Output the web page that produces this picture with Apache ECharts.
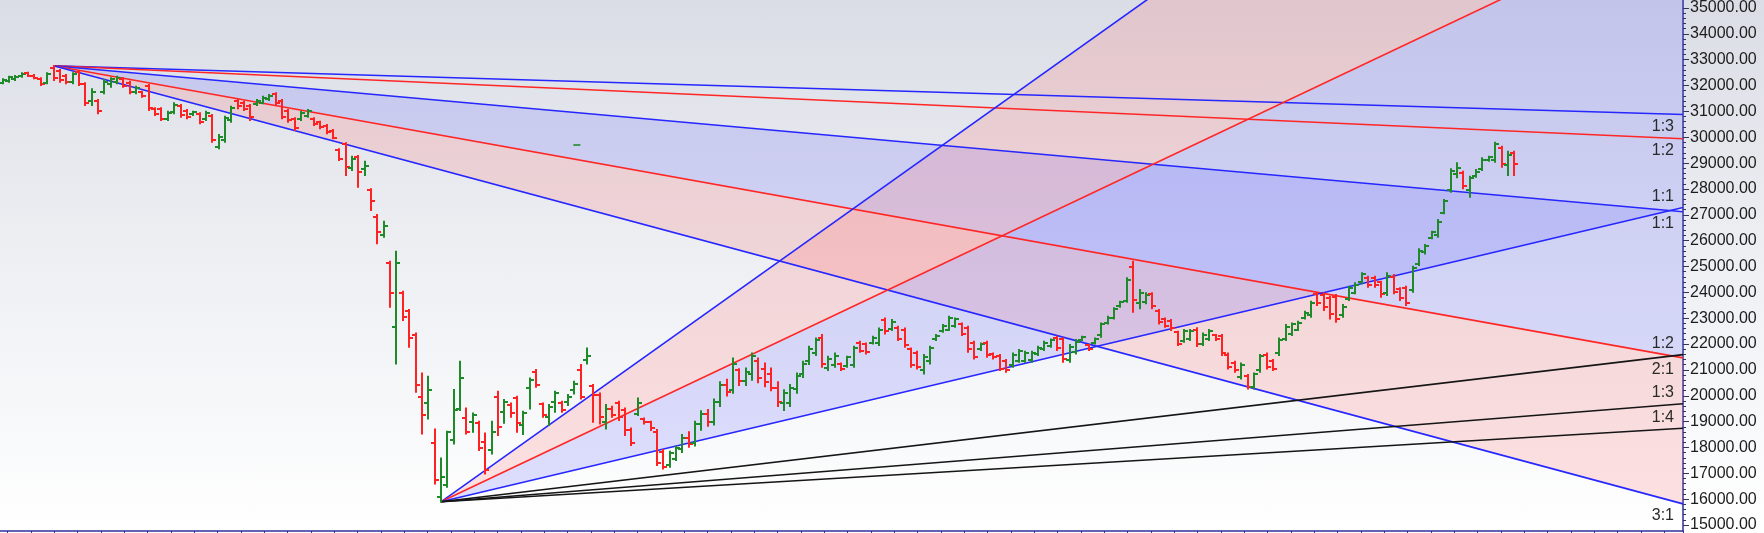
<!DOCTYPE html>
<html>
<head>
<meta charset="utf-8">
<script src="https://cdn.jsdelivr.net/npm/echarts@6/dist/echarts.min.js"></script>
<style>
html,body{margin:0;padding:0;background:#fff;}
#chart{width:1764px;height:533px;background:linear-gradient(to bottom,#dadde5 0%,#eceef2 45%,#ffffff 100%);}
</style>
</head>
<body>
<div id="chart"></div>
<script>
// ---------- OHLC data (one bar per trading day) ----------
const open = [
31990,32050,32110,32230,32350,32260,32130,31990,32550,32440,
32250,32000,32380,31930,31300,31300,31650,31950,32020,32120,
31980,31620,31620,31850,30990,30980,30620,30870,31100,30920,
30780,30800,30600,30720,29540,29800,30560,31300,31230,31100,
31160,31230,31350,31540,31280,30900,30590,30600,30730,30600,
30480,30340,30160,
29430,29640,28750,29170,28700,27900,26900,26200,
25120,22700,24000,23300,22400,20050,19830,18300,16250,16700,
18400,19600,19250,19100,19060,18340,18025,20053,19483,19736,
19990,18976,20370,21003,19775,19293,19863,19825,19863,20307,
21066,21450,20450,20120,19100,19600,19800,19550,18800,19400,
19200,19080,18700,17950,17450,
17700,18050,18500,18300,19000,19400,19100,19850,20500,20300,
21050,20650,20900,21400,21100,20900,20400,19800,19800,20350,
20900,21400,21700,22300,21150,
21250,21300,21220,21250,22100,22050,22100,22100,22950,22620,
22680,22600,21850,21700,21050,21400,22250,22550,22600,22750,
22800,22650,22080,21850,22100,21680,21600,21400,
21250,21420,21420,21450,21680,21850,21990,22300,22230,21450,
21750,22220,22000,22100,22380,22860,23060,23500,23700,24990,
23600,23650,23950,23300,23000,22940,22500,22180,22250,22600,
22050,22250,22380,22350,21650,21350,20800,20850,20420,21050,
21650,21400,21700,22250,22450,22600,23050,23150,23950,23900,
23800,23850,23150,23780,24000,24400,24580,24580,24400,24000,
24600,24150,24200,24100,25100,25550,26100,26200,27050,27900,
28500,28550,27900,28450,28700,29050,29050,29500,28850,29300
];
const high = [
32115,32216,32241,32343,32368,32279,32153,32343,32621,32469,
32279,32343,32406,31962,31734,31329,32089,32153,32216,32153,
32026,31836,31646,31899,31012,31012,30886,31202,31139,30949,
30886,30822,30886,30759,30000,30696,31076,31329,31266,31139,
31329,31456,31519,31582,31329,30949,30632,30886,30949,30632,
30505,30379,30189,
29454,29682,29175,29200,28985,27934,26958,26705,
25184,25565,24044,23347,22460,20940,20813,18811,17709,18720,
20307,21383,19610,19420,19103,18659,19103,20243,19926,19800,
20053,19483,20750,21066,19800,19736,20243,19863,20117,20623,
21257,21890,20496,20180,19736,19673,19863,19610,18849,19990,
19230,19103,18786,18026,17962,
18153,18600,18700,19100,19500,19550,19950,20600,20700,21510,
21100,21130,21700,21510,21320,21130,20600,20300,20500,20940,
21383,21954,22270,22397,21573,
21700,21320,21573,21953,22143,22080,22333,22650,23030,22967,
22714,22650,21890,21763,21637,21953,22397,22777,23094,23030,
22840,22714,22143,22080,22143,21700,21637,21447,
21700,21827,21763,21763,21954,22144,22232,22334,22270,22017,
22207,22334,22017,22270,22840,23094,23411,23664,24551,25184,
24108,23981,23981,23347,23030,22967,22524,22587,22587,22651,
22460,22587,22397,22397,21700,21383,21320,20877,20940,21637,
21700,21447,22270,22777,22840,22904,23284,23664,23981,23981,
23854,23918,23537,24234,24361,24741,24614,24614,24424,24741,
24678,24171,24234,24995,25653,25818,26324,26768,27528,28694,
28922,28605,28415,28669,29112,29175,29707,29555,29365,29365
];
const low = [
31962,32026,32089,32216,32241,32153,31899,31962,32089,32026,
31962,31962,31899,31139,31139,30822,31582,31836,31962,31836,
31582,31582,31456,30949,30759,30569,30569,30822,30696,30632,
30759,30442,30569,29745,29492,29745,30505,31012,30949,30569,
31139,31202,31329,31139,30632,30505,30189,30569,30696,30379,
30252,30062,29872,
29049,28479,28669,28035,28479,27148,25881,26135,
23474,21320,22967,21954,20243,18659,19230,16759,16062,16632,
18279,19546,18659,18723,18026,17139,17899,18596,19064,19293,
18723,18634,19610,20433,19293,18976,19483,19483,19736,20180,
19990,21320,19103,19040,18850,19293,19166,18596,18216,19356,
19040,18786,17455,17329,17392,
17645,17950,18150,18200,18800,18950,19000,19700,20100,20200,
20500,20500,20700,20600,20450,20300,19700,19550,19700,20200,
20800,21300,21637,21193,21066,
21193,21066,21193,21193,21763,21700,22080,22017,22460,22587,
22207,21953,21193,21130,20940,21320,22207,22523,22587,22714,
22397,21763,21510,21827,21573,21510,21066,21003,
21193,21383,21383,21383,21637,21827,21954,21827,21383,21383,
21700,22207,21827,22080,22334,22840,23030,23474,23664,23284,
23411,23601,23411,22840,22714,22587,22017,22144,22207,21979,
22017,22207,22207,21637,21130,21003,20750,20370,20370,21003,
21130,21067,21637,22207,22397,22587,23030,23094,23537,23347,
23030,22904,23094,23727,23981,24361,24234,24234,23854,23918,
23981,23728,23537,24044,25058,25500,26071,26134,27021,27845,
28390,27972,27655,28415,28669,29023,28985,28795,28478,28478
];
const close = [
32090,32190,32220,32320,32260,32170,31920,32320,32150,32080,
32000,32320,31930,31200,31650,30900,32030,32110,32160,31880,
31650,31780,31500,31020,30800,30620,30830,31150,30750,30680,
30860,30500,30840,29810,29930,30630,31010,31100,31000,30680,
31300,31420,31490,31200,30700,30560,30250,30840,30900,30420,
30290,30100,29900,
29100,28800,29100,28600,28820,27500,26300,26550,
23980,25150,23100,22300,20500,19360,20300,16900,17010,18700,
19550,20750,18720,19350,18090,17265,18723,18913,19863,19420,
19040,19420,20686,20496,19356,19673,20180,19546,20053,20540,
20053,21600,20100,19300,19600,19350,19300,18800,18300,19800,
19080,18850,17550,17400,17900,
18100,18500,18250,19000,19400,19100,19850,20500,20250,21300,
20650,21000,21600,20750,20600,20400,19850,20200,20400,20850,
21300,21850,22200,21300,21500,
21600,21100,21550,21900,21800,21750,22300,22600,22550,22900,
22250,22000,21250,21200,21550,21900,22350,22750,23050,23000,
22450,21850,21550,22050,21620,21550,21100,21050,
21650,21780,21720,21700,21900,22100,22200,21900,21500,21950,
22150,22310,21850,22250,22800,23050,23380,23640,24480,23726,
24000,23900,23500,22900,22750,22650,22050,22550,22550,22050,
22400,22550,22230,21700,21200,21050,21250,20420,20900,21600,
21200,21100,22200,22700,22800,22870,23250,23600,23600,23450,
23200,23000,23450,24180,24300,24700,24300,24280,23950,24650,
24050,23800,23600,24950,25600,25780,26300,26700,27500,28650,
28750,28050,28350,28600,29050,29150,29650,28900,29250,28900
];

// stray price marker seen on the chart (bar index, price)
const markerPoints = [[90.4, 29620]];

// ---------- axis ranges ----------
const priceView = [14950, 35130];        // visible price range of the plot
const priceTicks = [15000, 35000, 1000]; // labelled ticks
const indexView = [-0.425, 264.57];      // visible bar-index range (right part is empty future)
const timeTicks = [0, 71.8, 1];          // small ticks along the bottom edge

// ---------- Gann fans ----------
const topFan = { index: 8, price: 32630, unit: -21.63 };
const topRatios = [1/3, 1/2, 1, 2, 3];
const topLabels = ['1:3', '1:2', '1:1', '2:1', '3:1'];
const bottomFan = { index: 69, price: 16060, unit: 57.2 };
const bottomRatios = [3, 2, 1, 1/2, 1/3, 1/4];
const bottomLabels = ['', '', '1:1', '1:2', '1:3', '1:4'];

// styles (kept apart from data)
const topLineColors = ['blue', 'red', 'blue', 'red', 'blue'];
const bottomLineColors = ['blue', 'red', 'blue', 'black', 'black', 'black'];
const topBands = [[2, 3, 'lav'], [3, 4, 'pink']];
const bottomBands = [[0, 1, 'pink'], [1, 2, 'lav']];
const COLORS = { blue: '#2626ff', red: '#ff2626', black: '#151515' };
const FILLS = { lav: 'rgba(100,100,255,0.20)', pink: 'rgba(255,100,100,0.19)' };
const UP = '#1f8a2a', DOWN = '#ff2222';
const AXIS = '#2f2f9c';

const R = indexView[1];
function fanPrice(fan, ratio, idx) { return fan.price + fan.unit * ratio * (idx - fan.index); }
const fans = [
  { fan: topFan, ratios: topRatios, labels: topLabels, colors: topLineColors, bands: topBands, labelDy: 12 },
  { fan: bottomFan, ratios: bottomRatios, labels: bottomLabels, colors: bottomLineColors, bands: bottomBands, labelDy: -11 }
];

function clipPoly(pts, x0, y0, x1, y1) {
  const planes = [
    [p => p[0] >= x0, (a, b) => { const t = (x0 - a[0]) / (b[0] - a[0]); return [x0, a[1] + t * (b[1] - a[1])]; }],
    [p => p[0] <= x1, (a, b) => { const t = (x1 - a[0]) / (b[0] - a[0]); return [x1, a[1] + t * (b[1] - a[1])]; }],
    [p => p[1] >= y0, (a, b) => { const t = (y0 - a[1]) / (b[1] - a[1]); return [a[0] + t * (b[0] - a[0]), y0]; }],
    [p => p[1] <= y1, (a, b) => { const t = (y1 - a[1]) / (b[1] - a[1]); return [a[0] + t * (b[0] - a[0]), y1]; }]
  ];
  let out = pts;
  for (const [inside, inter] of planes) {
    const inp = out; out = [];
    if (!inp.length) break;
    for (let i = 0; i < inp.length; i++) {
      const cur = inp[i], prev = inp[(i + inp.length - 1) % inp.length];
      const ci = inside(cur), pi = inside(prev);
      if (ci) { if (!pi) out.push(inter(prev, cur)); out.push(cur); }
      else if (pi) out.push(inter(prev, cur));
    }
  }
  return out;
}

// ---------- series ----------
const series = [];

// band fills
const bandData = [];
fans.forEach((f, fi) => f.bands.forEach(b => bandData.push([fi, b[0], b[1], b[2] === 'lav' ? 0 : 1])));
series.push({
  type: 'custom', xAxisIndex: 0, yAxisIndex: 0, silent: true, z: 1, animation: false,
  data: bandData,
  renderItem(params, api) {
    const f = fans[api.value(0)];
    const ra = f.ratios[api.value(1)], rb = f.ratios[api.value(2)];
    const o = api.coord([f.fan.index, f.fan.price]);
    const a = api.coord([R, fanPrice(f.fan, ra, R)]);
    const b = api.coord([R, fanPrice(f.fan, rb, R)]);
    const cs = params.coordSys;
    const pts = clipPoly([o, a, b], cs.x, cs.y, cs.x + cs.width, cs.y + cs.height);
    return { type: 'polygon', shape: { points: pts }, style: { fill: api.value(3) === 0 ? FILLS.lav : FILLS.pink } };
  }
});

// fan lines
fans.forEach(f => {
  f.ratios.forEach((r, k) => {
    series.push({
      type: 'line', xAxisIndex: 0, yAxisIndex: 0, silent: true, z: 3, animation: false,
      symbol: 'none', clip: true,
      data: [[f.fan.index, f.fan.price], [R, fanPrice(f.fan, r, R)]],
      lineStyle: { color: COLORS[f.colors[k]], width: 1.6 }
    });
  });
});

// OHLC bars
const barData = open.map((o, i) => [i, o, high[i], low[i], close[i]]);
series.push({
  type: 'custom', xAxisIndex: 0, yAxisIndex: 0, silent: true, z: 4, animation: false,
  encode: { x: 0, y: [1, 2, 3, 4] },
  data: barData,
  renderItem(params, api) {
    const i = api.value(0);
    const o = api.value(1), h = api.value(2), l = api.value(3), c = api.value(4);
    const pH = api.coord([i, h]), pL = api.coord([i, l]), pO = api.coord([i, o]), pC = api.coord([i, c]);
    const x = Math.round(pH[0]);
    const yo = Math.round(pO[1]), yc = Math.round(pC[1]);
    const st = { stroke: c >= o ? UP : DOWN, lineWidth: 2 };
    return {
      type: 'group', children: [
        { type: 'line', shape: { x1: x, y1: pH[1] - 1, x2: x, y2: pL[1] + 1 }, style: st },
        { type: 'line', shape: { x1: x - 4, y1: yo, x2: x, y2: yo }, style: st },
        { type: 'line', shape: { x1: x, y1: yc, x2: x + 4, y2: yc }, style: st }
      ]
    };
  }
});

// small green price marker
series.push({
  type: 'scatter', xAxisIndex: 0, yAxisIndex: 0, silent: true, z: 4, animation: false,
  symbol: 'rect', symbolSize: [7, 2], itemStyle: { color: UP },
  data: markerPoints
});

// fan ratio labels at the right edge
const labelData = [];
fans.forEach((f, fi) => f.ratios.forEach((r, k) => { if (f.labels[k]) labelData.push([fi, k]); }));
series.push({
  type: 'custom', xAxisIndex: 0, yAxisIndex: 0, silent: true, z: 5, animation: false,
  data: labelData,
  renderItem(params, api) {
    const f = fans[api.value(0)], k = api.value(1);
    const p = api.coord([R, fanPrice(f.fan, f.ratios[k], R)]);
    return {
      type: 'text', x: p[0] - 9, y: p[1] + f.labelDy,
      style: { text: f.labels[k], fill: '#2a2a2a', font: '16px "Liberation Sans", Arial, sans-serif', align: 'right', verticalAlign: 'middle' }
    };
  }
});

const chart = echarts.init(document.getElementById('chart'), null, { renderer: 'canvas' });
chart.setOption({
  backgroundColor: 'transparent',
  animation: false,
  grid: [
    { left: 0, right: 81, top: 0, bottom: 2 },
    { left: 0, right: 81, top: 3.42, bottom: 3.32 },
    { left: 7.7, right: 81, top: 0, bottom: 2 }
  ],
  xAxis: [
    { gridIndex: 0, type: 'value', min: indexView[0], max: indexView[1],
      axisLine: { show: true, onZero: false, lineStyle: { color: AXIS, width: 1.5 } },
      axisTick: { show: false }, axisLabel: { show: false }, splitLine: { show: false } },
    { gridIndex: 1, type: 'value', min: 1, max: 2, show: false, axisLine: { onZero: false } },
    { gridIndex: 2, type: 'value', min: timeTicks[0], max: timeTicks[1], interval: timeTicks[2],
      axisLine: { show: false, onZero: false },
      axisTick: { show: true, length: 3, lineStyle: { color: AXIS } },
      axisLabel: { show: false }, splitLine: { show: false } }
  ],
  yAxis: [
    { gridIndex: 0, type: 'value', min: priceView[0], max: priceView[1], position: 'right',
      axisLine: { show: true, onZero: false, lineStyle: { color: AXIS, width: 1.5 } },
      axisTick: { show: false }, axisLabel: { show: false }, splitLine: { show: false } },
    { gridIndex: 1, type: 'value', min: priceTicks[0], max: priceTicks[1], interval: priceTicks[2], position: 'right',
      axisLine: { show: false, onZero: false },
      axisTick: { show: true, length: 6, lineStyle: { color: '#33335a' } },
      minorTick: { show: true, splitNumber: 5, length: 3, lineStyle: { color: '#33335a' } },
      axisLabel: { formatter: v => v.toFixed(2), fontSize: 16, color: '#1c1c1c',
        fontFamily: '"Liberation Sans", Arial, sans-serif', margin: 7 },
      splitLine: { show: false } },
    { gridIndex: 2, type: 'value', min: 0, max: 1, show: false, axisLine: { onZero: false } }
  ],
  series: series
});
</script>
</body>
</html>
